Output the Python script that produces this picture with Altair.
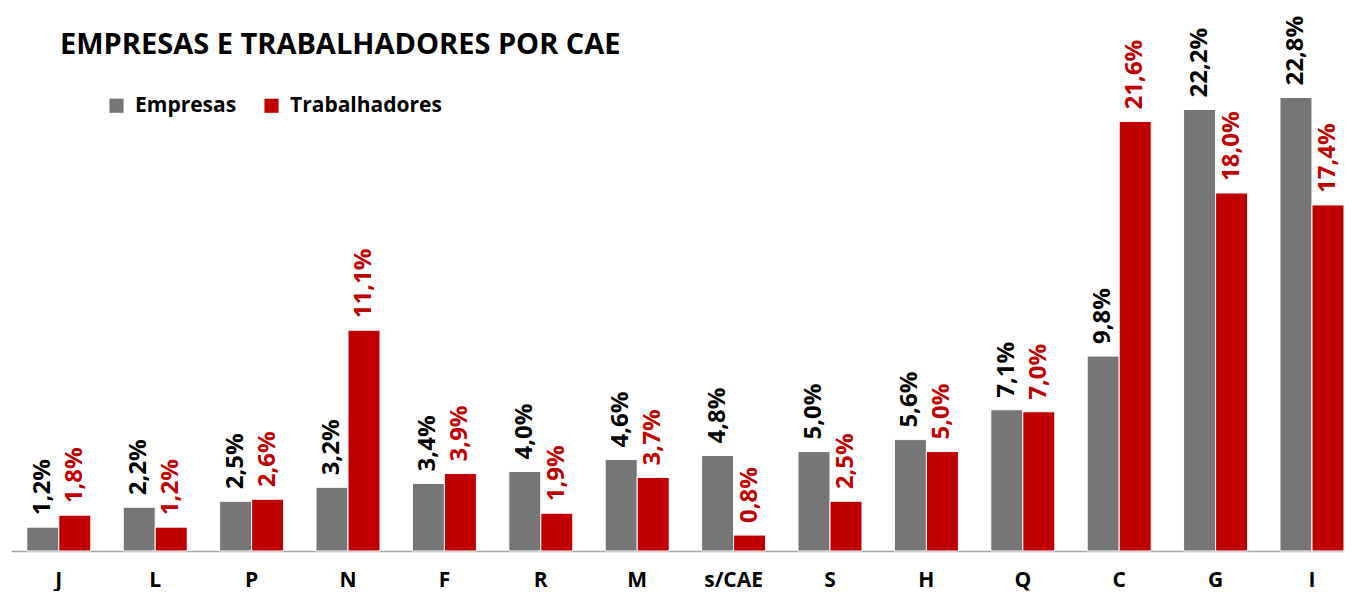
import altair as alt
import pandas as pd

categories = ["J", "L", "P", "N", "F", "R", "M", "s/CAE", "S", "H", "Q", "C", "G", "I"]
empresas = [1.2, 2.2, 2.5, 3.2, 3.4, 4.0, 4.6, 4.8, 5.0, 5.6, 7.1, 9.8, 22.2, 22.8]
trabalhadores = [1.8, 1.2, 2.6, 11.1, 3.9, 1.9, 3.7, 0.8, 2.5, 5.0, 7.0, 21.6, 18.0, 17.4]
series = ["Empresas", "Trabalhadores"]
colors = ["#767676", "#c00000"]
label_colors = ["#000000", "#c00000"]

rows = []
for i, c in enumerate(categories):
    for s, vals in zip(series, [empresas, trabalhadores]):
        v = vals[i]
        rows.append({"cat": c, "serie": s, "val": v,
                     "lab": f"{v:.1f}".replace(".", ",") + "%"})
df = pd.DataFrame(rows)

FONT = "Open Sans"

x = alt.X("cat:N", sort=categories, title=None,
          scale=alt.Scale(paddingInner=0.336, paddingOuter=0.082, align=1),
          axis=alt.Axis(labelAngle=0, labelFont=FONT, labelFontWeight="bold",
                        labelFontSize=21, labelColor="#000000", labelPadding=18,
                        ticks=False, domainColor="#a6a6a6", domainWidth=1.5))
y = alt.Y("val:Q", scale=alt.Scale(domain=[0, 26.9], nice=False), axis=None)
xo = alt.XOffset("serie:N", sort=series, scale=alt.Scale(paddingInner=0))

base = alt.Chart(df).encode(x=x, y=y, xOffset=xo)

bars = base.mark_bar(stroke="white", strokeWidth=1).encode(
    color=alt.Color("serie:N", sort=series,
                    scale=alt.Scale(domain=series, range=colors),
                    legend=alt.Legend(title=None, orient="none", legendX=95, legendY=79,
                                      direction="horizontal", symbolType="square",
                                      symbolSize=200, symbolStrokeWidth=0,
                                      labelFont=FONT, labelFontWeight="bold",
                                      labelFontSize=21, labelColor="#000000",
                                      columnPadding=24, labelOffset=8))
)

texts = base.mark_text(angle=270, align="left", baseline="middle", dx=12,
                       font=FONT, fontWeight="bold", fontSize=24).encode(
    text="lab:N",
    color=alt.Color("serie:N", sort=series,
                    scale=alt.Scale(domain=series, range=label_colors), legend=None)
)

chart = alt.layer(bars, texts).resolve_scale(color="independent").properties(
    width=1333, height=535,
    title=alt.TitleParams("EMPRESAS E TRABALHADORES POR CAE", anchor="start",
                          frame="group", font=FONT, fontWeight="bold", fontSize=29,
                          color="#000000", offset=-44, dx=49),
    padding={"left": 3, "top": 8, "right": 0, "bottom": 40},
    autosize=alt.AutoSizeParams(type="none")
).configure_view(stroke=None)

chart.save("out.html", embed_options={"renderer": "svg", "actions": False})
